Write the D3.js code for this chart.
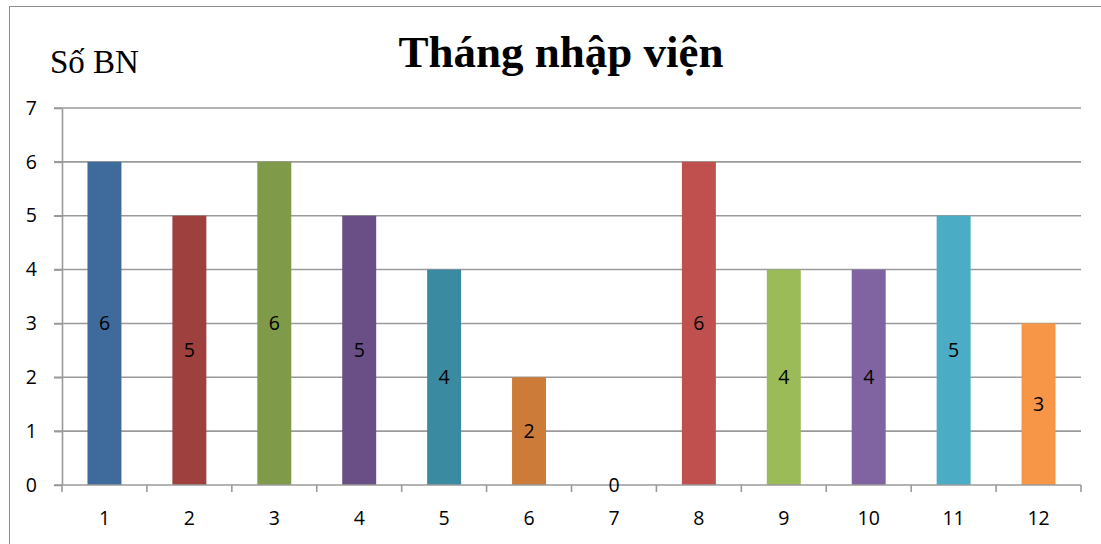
<!DOCTYPE html>
<html>
<head>
<meta charset="utf-8">
<script src="https://cdn.jsdelivr.net/npm/d3@7/dist/d3.min.js"></script>
<style>
  html, body { margin: 0; padding: 0; background: #fff; }
  svg { display: block; }
</style>
</head>
<body>
<svg id="chart" width="1101" height="544"></svg>
<script>
// Admissions per month
const months = ["1", "2", "3", "4", "5", "6", "7", "8", "9", "10", "11", "12"];
const patients = [6, 5, 6, 5, 4, 2, 0, 6, 4, 4, 5, 3];
const barColors = ["#3F6A9C", "#9E413E", "#7F9A48", "#6A4F86", "#3A8BA2", "#CC7B38",
                   "#4F81BD", "#C0504D", "#9BBB59", "#8064A2", "#4BACC6", "#F79646"];
const yTicks = [0, 1, 2, 3, 4, 5, 6, 7];
const titleText = "Tháng nhập viện";
const yAxisLabel = "Số BN";

const svg = d3.select("#chart");
const margin = { left: 62, right: 1081, top: 108, bottom: 485 };
const labelFont = "'Open Sans', sans-serif";
const labelSize = 19.5;

// Outer chart frame
svg.append("rect")
  .attr("x", 9.5).attr("y", 6.5)
  .attr("width", 1200).attr("height", 700)
  .attr("fill", "none").attr("stroke", "#8c8c8c").attr("stroke-width", 1);

const x = d3.scaleBand().domain(months).range([margin.left, margin.right]).paddingInner(0.6).paddingOuter(0.3);
const xStep = d3.scaleBand().domain(months).range([margin.left, margin.right]);
const y = d3.scaleLinear().domain([0, 7]).range([margin.bottom, margin.top]);

// Horizontal gridlines
svg.append("g")
  .selectAll("line")
  .data(yTicks.filter(d => d > 0))
  .join("line")
  .attr("x1", margin.left - 8).attr("x2", margin.right)
  .attr("y1", d => y(d)).attr("y2", d => y(d))
  .attr("stroke", "#9a9a9a").attr("stroke-width", 1.6);

// Bars
svg.append("g")
  .selectAll("rect")
  .data(patients)
  .join("rect")
  .attr("x", (d, i) => x(months[i]))
  .attr("width", x.bandwidth())
  .attr("y", d => y(d))
  .attr("height", d => y(0) - y(d))
  .attr("fill", (d, i) => barColors[i]);

// Y axis
const yAxis = svg.append("g")
  .attr("transform", `translate(${margin.left},0)`)
  .call(d3.axisLeft(y).tickValues(yTicks).tickFormat(d3.format("d"))
    .tickSize(8).tickPadding(17).tickSizeOuter(0));
yAxis.select(".domain").attr("stroke", "#9a9a9a").attr("stroke-width", 1.6);
yAxis.selectAll(".tick line").attr("stroke", "#9a9a9a").attr("stroke-width", 1.6);
yAxis.selectAll(".tick text")
  .attr("font-family", labelFont)
  .attr("font-size", labelSize).attr("fill", "#000");

// X axis with ticks at category boundaries
const xAxisG = svg.append("g").attr("transform", `translate(0,${margin.bottom})`);
xAxisG.append("line")
  .attr("x1", margin.left - 8).attr("x2", margin.right)
  .attr("y1", 0).attr("y2", 0)
  .attr("stroke", "#9a9a9a").attr("stroke-width", 1.6);
xAxisG.selectAll("line.sep")
  .data(months.concat(["end"]))
  .join("line")
  .attr("class", "sep")
  .attr("x1", (d, i) => margin.left + i * xStep.step())
  .attr("x2", (d, i) => margin.left + i * xStep.step())
  .attr("y1", 0).attr("y2", 7)
  .attr("stroke", "#9a9a9a").attr("stroke-width", 1.6);
xAxisG.selectAll("text")
  .data(months)
  .join("text")
  .attr("x", d => xStep(d) + xStep.bandwidth() / 2)
  .attr("y", 33)
  .attr("dy", "0.36em")
  .attr("text-anchor", "middle")
  .attr("font-family", labelFont)
  .attr("font-size", labelSize).attr("fill", "#000")
  .text(d => d);

// Value labels at mid-height of each bar
svg.append("g")
  .selectAll("text")
  .data(patients)
  .join("text")
  .attr("x", (d, i) => x(months[i]) + x.bandwidth() / 2)
  .attr("y", d => y(d / 2))
  .attr("dy", "0.36em")
  .attr("text-anchor", "middle")
  .attr("font-family", labelFont)
  .attr("font-size", labelSize).attr("fill", "#000")
  .text(d => d);

// Title and axis caption
svg.append("text")
  .attr("x", 561).attr("y", 67)
  .attr("text-anchor", "middle")
  .attr("font-family", "'Liberation Serif', 'Times New Roman', serif")
  .attr("font-weight", "bold")
  .attr("font-size", 45)
  .text(titleText);

svg.append("text")
  .attr("x", 50).attr("y", 73)
  .attr("font-family", "'Liberation Serif', 'Times New Roman', serif")
  .attr("font-size", 33)
  .text(yAxisLabel);
</script>
</body>
</html>
